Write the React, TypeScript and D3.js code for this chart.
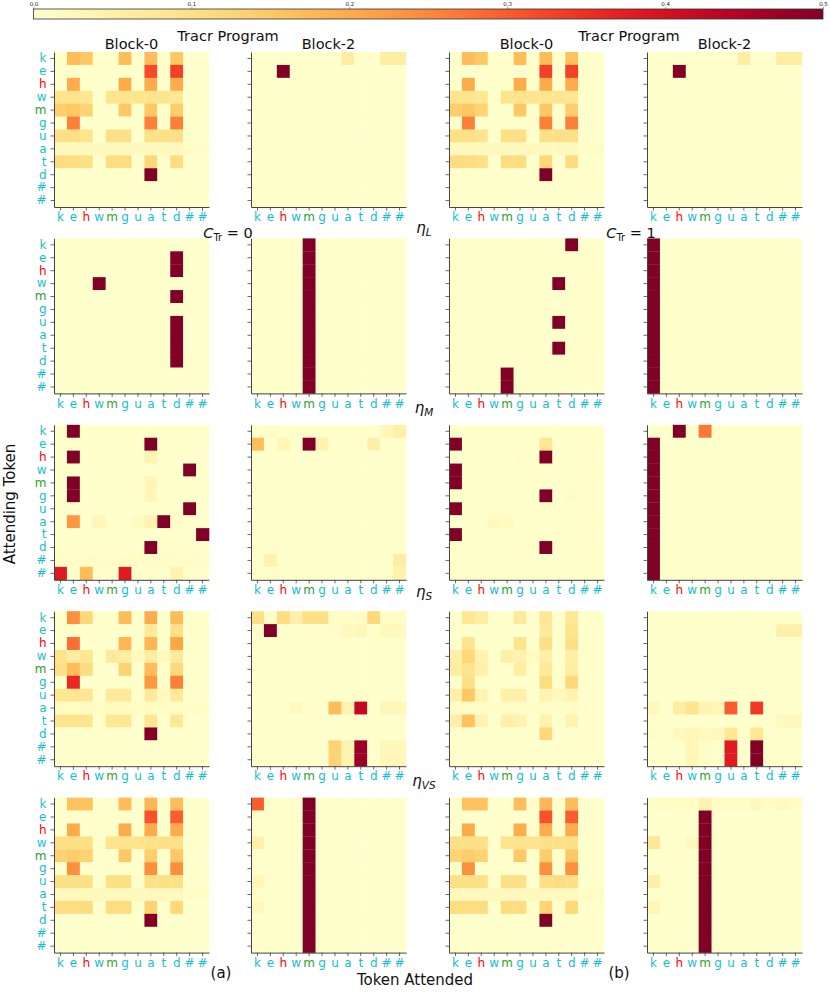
import { useEffect, useRef } from "react";
import * as d3 from "d3";

// tokens along both axes
const tokens = ["k", "e", "h", "w", "m", "g", "u", "a", "t", "d", "#", "#"];
const tokenColors = ["#17becf", "#17becf", "#ff0000", "#17becf", "#2ca02c", "#17becf", "#17becf", "#17becf", "#17becf", "#17becf", "#17becf", "#17becf"];
const colTitles = ["Block-0", "Block-2", "Block-0", "Block-2"];
const rowLabels = [["η", "L"], ["η", "M"], ["η", "S"], ["η", "VS"]];
const cbTicks = [0, 0.1, 0.2, 0.3, 0.4, 0.5];

const O = [0, 0, 0, 0, 0, 0, 0, 0, 0, 0, 0, 0];

// eta_L
const L_c0_b0 = [
  [0, .17, .15, 0, 0, .17, 0, .17, 0, .15, 0, 0],
  [0, 0, 0, 0, 0, 0, 0, .32, 0, .33, 0, 0],
  [0, .2, 0, 0, 0, .2, 0, .2, 0, .2, 0, 0],
  [.09, .09, .08, 0, .09, .09, .09, .09, .09, .08, 0, 0],
  [.14, .15, .13, 0, 0, .15, 0, .15, 0, .14, 0, 0],
  [0, .26, 0, 0, 0, 0, 0, .26, 0, .26, 0, 0],
  [.1, .1, .09, 0, .1, .1, 0, .1, .1, .1, 0, 0],
  [.02, .02, .02, .02, .02, .02, .02, .02, .02, .02, .01, .01],
  [.11, .11, .1, 0, .11, .11, 0, .12, 0, .11, 0, 0],
  [0, 0, 0, 0, 0, 0, 0, .5, 0, 0, 0, 0],
  O, O,
];
const L_c0_b2 = [
  [0, 0, 0, 0, 0, 0, 0, .06, 0, 0, .06, .06],
  [0, 0, .5, 0, 0, 0, 0, 0, 0, 0, 0, 0],
  O, O, O, O, O, O, O, O, O, O,
];
const L_c1_b0 = [
  [0, .17, .15, 0, 0, .17, 0, .17, 0, .16, 0, 0],
  [0, 0, 0, 0, 0, 0, 0, .33, 0, .33, 0, 0],
  [0, .2, 0, 0, 0, .2, 0, .2, 0, .2, 0, 0],
  [.09, .09, .08, 0, .09, .09, .09, .09, .09, .08, 0, 0],
  [.14, .15, .13, 0, 0, .15, 0, .15, 0, .14, 0, 0],
  [0, .26, 0, 0, 0, 0, 0, .26, 0, .26, 0, 0],
  [.1, .1, .09, 0, .1, .1, 0, .1, .1, .1, 0, 0],
  [.02, .02, .02, .02, .02, .02, .02, .02, .02, .02, .01, .01],
  [.11, .11, .1, 0, .11, .11, 0, .12, 0, .11, 0, 0],
  [0, 0, 0, 0, 0, 0, 0, .5, 0, 0, 0, 0],
  O, O,
];
const L_c1_b2 = [
  [0, 0, 0, 0, 0, 0, 0, .06, 0, 0, .06, .06],
  [0, 0, .5, 0, 0, 0, 0, 0, 0, 0, 0, 0],
  O, O, O, O, O, O, O, O, O, O,
];

// eta_M
const M_c0_b0 = [
  O,
  [0, 0, 0, 0, 0, 0, 0, 0, 0, .5, 0, 0],
  [0, 0, 0, 0, 0, 0, 0, 0, 0, .5, 0, 0],
  [0, 0, 0, .5, 0, 0, 0, 0, 0, 0, 0, 0],
  [0, 0, 0, 0, 0, 0, 0, 0, 0, .5, 0, 0],
  O,
  [0, 0, 0, 0, 0, 0, 0, 0, 0, .5, 0, 0],
  [0, 0, 0, 0, 0, 0, 0, 0, 0, .5, 0, 0],
  [0, 0, 0, 0, 0, 0, 0, 0, 0, .5, 0, 0],
  [0, 0, 0, 0, 0, 0, 0, 0, 0, .5, 0, 0],
  O, O,
];
const mCol = [0, 0, 0, 0, .5, 0, 0, 0, 0, 0, 0, 0];
const M_c0_b2 = [mCol, mCol, mCol, mCol, mCol, mCol, mCol, mCol, mCol, mCol, mCol, mCol];
const M_c1_b0 = [
  [0, 0, 0, 0, 0, 0, 0, 0, 0, .5, 0, 0],
  O, O,
  [0, 0, 0, 0, 0, 0, 0, 0, .5, 0, 0, 0],
  O, O,
  [0, 0, 0, 0, 0, 0, 0, 0, .5, 0, 0, 0],
  O,
  [0, 0, 0, 0, 0, 0, 0, 0, .5, 0, 0, 0],
  O,
  [0, 0, 0, 0, .5, 0, 0, 0, 0, 0, 0, 0],
  [0, 0, 0, 0, .5, 0, 0, 0, 0, 0, 0, 0],
];
const kCol = [.5, 0, 0, 0, 0, 0, 0, 0, 0, 0, 0, 0];
const M_c1_b2 = [kCol, kCol, kCol, kCol, kCol, kCol, kCol, kCol, kCol, kCol, kCol, kCol];

// eta_S
const S_c0_b0 = [
  [0, .5, 0, 0, 0, 0, 0, 0, 0, 0, 0, 0],
  [0, 0, 0, 0, 0, 0, 0, .5, 0, 0, 0, 0],
  [0, .5, 0, 0, 0, 0, 0, .04, 0, 0, 0, 0],
  [0, 0, 0, 0, 0, 0, 0, 0, 0, 0, .5, 0],
  [0, .5, 0, 0, 0, 0, 0, .03, 0, 0, 0, 0],
  [0, .5, 0, 0, 0, 0, 0, .03, 0, 0, 0, 0],
  [0, 0, 0, 0, 0, 0, 0, 0, 0, 0, .5, 0],
  [0, .23, 0, .03, 0, 0, .015, .04, .5, .01, 0, 0],
  [0, 0, 0, 0, 0, 0, 0, 0, 0, 0, 0, .5],
  [0, 0, 0, 0, 0, 0, 0, .5, 0, 0, 0, 0],
  [.01, .01, .01, .01, .01, .01, .01, .01, .01, .01, .01, .01],
  [.38, 0, .17, 0, 0, .38, 0, 0, 0, .04, 0, 0],
];
const S_c0_b2 = [
  [0, .01, 0, 0, 0, 0, 0, 0, 0, 0, .03, .05],
  [.17, 0, .03, 0, .5, .04, 0, 0, 0, .05, 0, 0],
  O, O, O, O, O, O, O, O,
  [0, .04, 0, 0, 0, 0, 0, 0, 0, 0, 0, .06],
  [0, 0, 0, 0, 0, 0, 0, 0, 0, 0, 0, .04],
];
const S_c1_b0 = [
  O,
  [.5, 0, 0, 0, 0, 0, 0, .08, 0, 0, 0, 0],
  [0, 0, 0, 0, 0, .01, 0, .5, 0, 0, 0, 0],
  [.5, 0, 0, 0, 0, 0, 0, 0, 0, 0, 0, 0],
  [.5, 0, 0, 0, 0, 0, 0, 0, 0, 0, 0, 0],
  [0, 0, 0, 0, 0, 0, 0, .5, 0, .01, 0, 0],
  [.5, 0, 0, 0, 0, 0, 0, 0, 0, 0, 0, 0],
  [0, 0, 0, .02, .015, 0, 0, .005, .005, 0, 0, 0],
  [.5, 0, 0, 0, 0, 0, 0, 0, 0, 0, 0, 0],
  [0, 0, 0, 0, 0, 0, 0, .5, 0, 0, 0, 0],
  O, O,
];
const S_c1_b2 = [
  [0, 0, .5, 0, .27, 0, 0, 0, 0, 0, 0, 0],
  kCol, kCol, kCol, kCol, kCol, kCol, kCol, kCol, kCol, kCol, kCol,
];

// eta_VS
const VS_c0_b0 = [
  [0, .24, .12, 0, 0, .17, 0, .2, 0, .17, 0, 0],
  [0, 0, 0, 0, 0, 0, 0, .07, 0, .1, 0, 0],
  [0, .28, 0, 0, 0, .18, 0, .18, 0, .21, 0, 0],
  [.09, .06, .08, 0, .07, .06, .02, .06, .02, .07, 0, 0],
  [.1, .17, .11, 0, 0, .13, 0, .17, 0, .12, 0, 0],
  [0, .36, 0, 0, 0, 0, 0, .23, 0, .26, 0, 0],
  [.08, .08, .08, 0, .07, .07, 0, .07, .02, .07, 0, 0],
  [.015, .015, .015, .015, .015, .015, .015, .015, .015, .015, .01, .01],
  [.09, .09, .09, 0, .08, .08, 0, .08, 0, .08, 0, 0],
  [0, 0, 0, 0, 0, 0, 0, .5, 0, 0, 0, 0],
  O, O,
];
const VS_c0_b2 = [
  [.1, .01, .11, .05, .1, .1, .01, .01, .01, .12, .01, .01],
  [0, .5, 0, 0, 0, 0, .01, .02, .03, 0, .02, .02],
  O, O, O, O, O,
  [0, 0, 0, .02, 0, 0, .17, .04, .42, 0, .03, .03],
  O, O,
  [0, 0, 0, 0, 0, 0, .13, .04, .47, 0, .03, .03],
  [0, 0, 0, 0, 0, 0, .13, .04, .47, 0, .03, .03],
];
const VS_c1_b0 = [
  [0, .08, .06, 0, 0, .07, 0, .08, 0, .08, 0, 0],
  [0, 0, 0, 0, 0, 0, 0, .07, 0, .09, 0, 0],
  [0, .09, 0, 0, 0, .09, 0, .1, 0, .1, 0, 0],
  [.05, .12, .04, 0, .05, .04, .015, .05, 0, .05, 0, 0],
  [.06, .09, .05, 0, 0, .06, 0, .07, 0, .06, 0, 0],
  [0, .1, 0, 0, 0, 0, 0, .11, 0, .12, 0, 0],
  [.05, .15, .04, 0, .05, .05, 0, .04, .02, .04, 0, 0],
  [.01, .01, .01, .01, .01, .01, .01, .01, .01, .01, 0, 0],
  [.05, .16, .04, 0, .05, .04, 0, .04, 0, .04, 0, 0],
  [0, 0, 0, 0, 0, 0, 0, .12, 0, 0, 0, 0],
  O, O,
];
const VS_c1_b2 = [
  O,
  [0, 0, 0, 0, 0, 0, 0, 0, 0, 0, .05, .05],
  O, O, O, O, O,
  [.02, 0, .06, .09, .04, .03, .3, 0, .34, 0, 0, 0],
  [0, 0, 0, 0, 0, 0, 0, 0, 0, 0, .02, .02],
  [.01, 0, .02, .03, .02, .02, .08, 0, .08, 0, 0, 0],
  [0, 0, 0, .03, .01, 0, .38, 0, .5, 0, 0, 0],
  [0, 0, 0, .03, .01, 0, .38, 0, .5, 0, 0, 0],
];

// last row (no label)
const R_c0_b0 = [
  [0, .16, .16, 0, 0, .17, 0, .18, 0, .17, 0, 0],
  [0, 0, 0, 0, 0, 0, 0, .31, 0, .3, 0, 0],
  [0, .2, 0, 0, 0, .2, 0, .2, 0, .2, 0, 0],
  [.1, .1, .1, 0, .09, .09, .09, .1, .1, .1, 0, 0],
  [.13, .14, .13, 0, 0, .15, 0, .14, 0, .15, 0, 0],
  [0, .24, 0, 0, 0, 0, 0, .24, 0, .24, 0, 0],
  [.1, .1, .1, 0, .1, .1, 0, .1, .1, .1, 0, 0],
  [.02, .02, .02, .02, .02, .02, .02, .02, .02, .02, .01, .01],
  [.11, .11, .11, 0, .11, .11, 0, .13, 0, .12, 0, 0],
  [0, 0, 0, 0, 0, 0, 0, .5, 0, 0, 0, 0],
  O, O,
];
const R_c0_b2 = [
  [.3, 0, 0, 0, .5, 0, 0, 0, 0, 0, 0, 0],
  mCol, mCol,
  [.05, 0, 0, 0, .5, 0, 0, 0, 0, 0, 0, 0],
  mCol, mCol,
  [.03, 0, 0, 0, .5, 0, 0, 0, 0, 0, 0, 0],
  mCol,
  [.02, 0, 0, 0, .5, 0, 0, 0, 0, 0, 0, 0],
  mCol, mCol, mCol,
];
const R_c1_b0 = [
  [0, .16, .16, 0, 0, .17, 0, .18, 0, .17, 0, 0],
  [0, 0, 0, 0, 0, 0, 0, .31, 0, .3, 0, 0],
  [0, .2, 0, 0, 0, .2, 0, .2, 0, .2, 0, 0],
  [.1, .1, .1, 0, .09, .09, .09, .1, .1, .1, 0, 0],
  [.13, .14, .13, 0, 0, .15, 0, .14, 0, .15, 0, 0],
  [0, .24, 0, 0, 0, 0, 0, .24, 0, .24, 0, 0],
  [.1, .1, .1, 0, .1, .1, 0, .1, .11, .1, 0, 0],
  [.02, .02, .02, .02, .02, .02, .02, .02, .02, .02, .01, .01],
  [.11, .11, .11, 0, .11, .11, 0, .13, 0, .12, 0, 0],
  [0, 0, 0, 0, 0, 0, 0, .5, 0, 0, 0, 0],
  O, O,
];
const R_c1_b2 = [
  [.01, .01, .01, .01, .04, .01, .01, .01, .02, .01, .02, .01],
  mCol, mCol,
  [.08, 0, 0, .02, .5, 0, 0, 0, 0, 0, 0, 0],
  mCol, mCol,
  [.05, 0, 0, 0, .5, 0, 0, 0, 0, 0, 0, 0],
  mCol,
  [.03, 0, 0, 0, .5, 0, 0, 0, 0, 0, 0, 0],
  mCol, mCol, mCol,
];

const grid = [
  [L_c0_b0, L_c0_b2, L_c1_b0, L_c1_b2],
  [M_c0_b0, M_c0_b2, M_c1_b0, M_c1_b2],
  [S_c0_b0, S_c0_b2, S_c1_b0, S_c1_b2],
  [VS_c0_b0, VS_c0_b2, VS_c1_b0, VS_c1_b2],
  [R_c0_b0, R_c0_b2, R_c1_b0, R_c1_b2],
];

const colX = [54, 251, 449, 647];
const rowY = [52, 238.4, 424.8, 611.2, 797.6];
const size = 155;
const font = "DejaVu Sans, sans-serif";

export default function App() {
  const svgRef = useRef<SVGSVGElement>(null);

  useEffect(() => {
    document.body.style.margin = "0";
    const svg = d3.select(svgRef.current);
    svg.selectAll("*").remove();

    const color = d3.scaleSequential(d3.interpolateYlOrRd).domain([0, 0.5]).clamp(true);

    // colorbar
    const cbX = d3.scaleLinear().domain([0, 0.5]).range([33.5, 823]);
    const grad = svg.append("defs").append("linearGradient").attr("id", "cb");
    d3.range(0, 1.0001, 0.05).forEach(t => {
      grad.append("stop").attr("offset", t).attr("stop-color", d3.interpolateYlOrRd(t));
    });
    svg.append("rect")
      .attr("x", cbX(0)).attr("y", 9)
      .attr("width", cbX(0.5) - cbX(0)).attr("height", 10)
      .attr("fill", "url(#cb)")
      .attr("stroke", "#333").attr("stroke-width", 0.8);
    const cbAxis = svg.append("g")
      .attr("transform", "translate(0,9)")
      .call(d3.axisTop(cbX).tickValues(cbTicks).tickFormat(d3.format(".1f")).tickSize(2).tickPadding(1));
    cbAxis.select(".domain").remove();
    cbAxis.selectAll("text").attr("font-family", font).attr("font-size", 5.5).attr("fill", "#222");
    cbAxis.selectAll("line").attr("stroke", "#333").attr("stroke-width", 0.5);

    grid.forEach((row, ri) => {
      row.forEach((mat, ci) => {
        const x = d3.scaleBand<number>().domain(d3.range(12)).range([colX[ci], colX[ci] + size]);
        const y = d3.scaleBand<number>().domain(d3.range(12)).range([rowY[ri], rowY[ri] + size]);
        const g = svg.append("g");
        const cells = mat.flatMap((r, i) => r.map((v, j) => ({ i, j, v })));
        g.selectAll("rect")
          .data(cells)
          .enter()
          .append("rect")
          .attr("x", d => x(d.j)!)
          .attr("y", d => y(d.i)!)
          .attr("width", x.bandwidth() + 0.3)
          .attr("height", y.bandwidth() + 0.3)
          .attr("fill", d => color(d.v));

        const left = svg.append("g")
          .attr("transform", `translate(${colX[ci]},0)`)
          .call(d3.axisLeft(y).tickSize(3.5).tickSizeOuter(0)
            .tickFormat(i => (ci === 0 ? tokens[i as number] : "")));
        const bottom = svg.append("g")
          .attr("transform", `translate(0,${rowY[ri] + size})`)
          .call(d3.axisBottom(x).tickSize(3.5).tickSizeOuter(0).tickFormat(i => tokens[i as number]));
        [left, bottom].forEach(ax => {
          ax.select(".domain").attr("stroke", "#444").attr("stroke-width", 1);
          ax.selectAll("line").attr("stroke", "#444").attr("stroke-width", 0.8);
          ax.selectAll("text")
            .attr("font-family", font)
            .attr("font-size", 12)
            .attr("fill", (_d, k) => tokenColors[k]);
        });
        left.selectAll("text").attr("dx", "-1");
        bottom.selectAll("text").attr("dy", "0.65em");
      });
    });

    const txt = (x: number, y: number, s: string, size = 14, anchor = "middle") =>
      svg.append("text")
        .attr("x", x).attr("y", y)
        .attr("text-anchor", anchor)
        .attr("font-family", font)
        .attr("font-size", size)
        .attr("fill", "#111")
        .text(s);

    colTitles.forEach((t, ci) => txt(colX[ci] + size / 2, 48.5, t, 14.5));
    txt(228, 41, "Tracr Program", 14.5);
    txt(629, 41, "Tracr Program", 14.5);

    // C_Tr labels
    [[228, "0"], [631, "1"]].forEach(([cx, v]) => {
      const t = svg.append("text")
        .attr("x", cx as number).attr("y", 237.5)
        .attr("text-anchor", "middle")
        .attr("font-family", font).attr("font-size", 14.5).attr("fill", "#111");
      t.append("tspan").attr("font-style", "italic").text("C");
      t.append("tspan").attr("font-size", 10).attr("dy", 3).text("Tr");
      t.append("tspan").attr("dy", -3).text(` = ${v}`);
    });

    // eta labels
    const etaY = [233, 413, 597, 786];
    rowLabels.forEach(([a, b], i) => {
      const t = svg.append("text")
        .attr("x", 424).attr("y", etaY[i])
        .attr("text-anchor", "middle")
        .attr("font-family", font).attr("font-size", 15).attr("fill", "#111")
        .attr("font-style", "italic");
      t.append("tspan").text(a);
      t.append("tspan").attr("font-size", 10.5).attr("dy", 3).text(b);
    });

    txt(221, 978, "(a)", 15);
    txt(619, 978, "(b)", 15);
    txt(415, 985, "Token Attended", 15);
    svg.append("text")
      .attr("transform", "translate(15,504) rotate(-90)")
      .attr("text-anchor", "middle")
      .attr("font-family", font)
      .attr("font-size", 15)
      .attr("fill", "#111")
      .text("Attending Token");
  }, []);

  return <svg ref={svgRef} width={830} height={993} style={{ display: "block" }}></svg>;
}
